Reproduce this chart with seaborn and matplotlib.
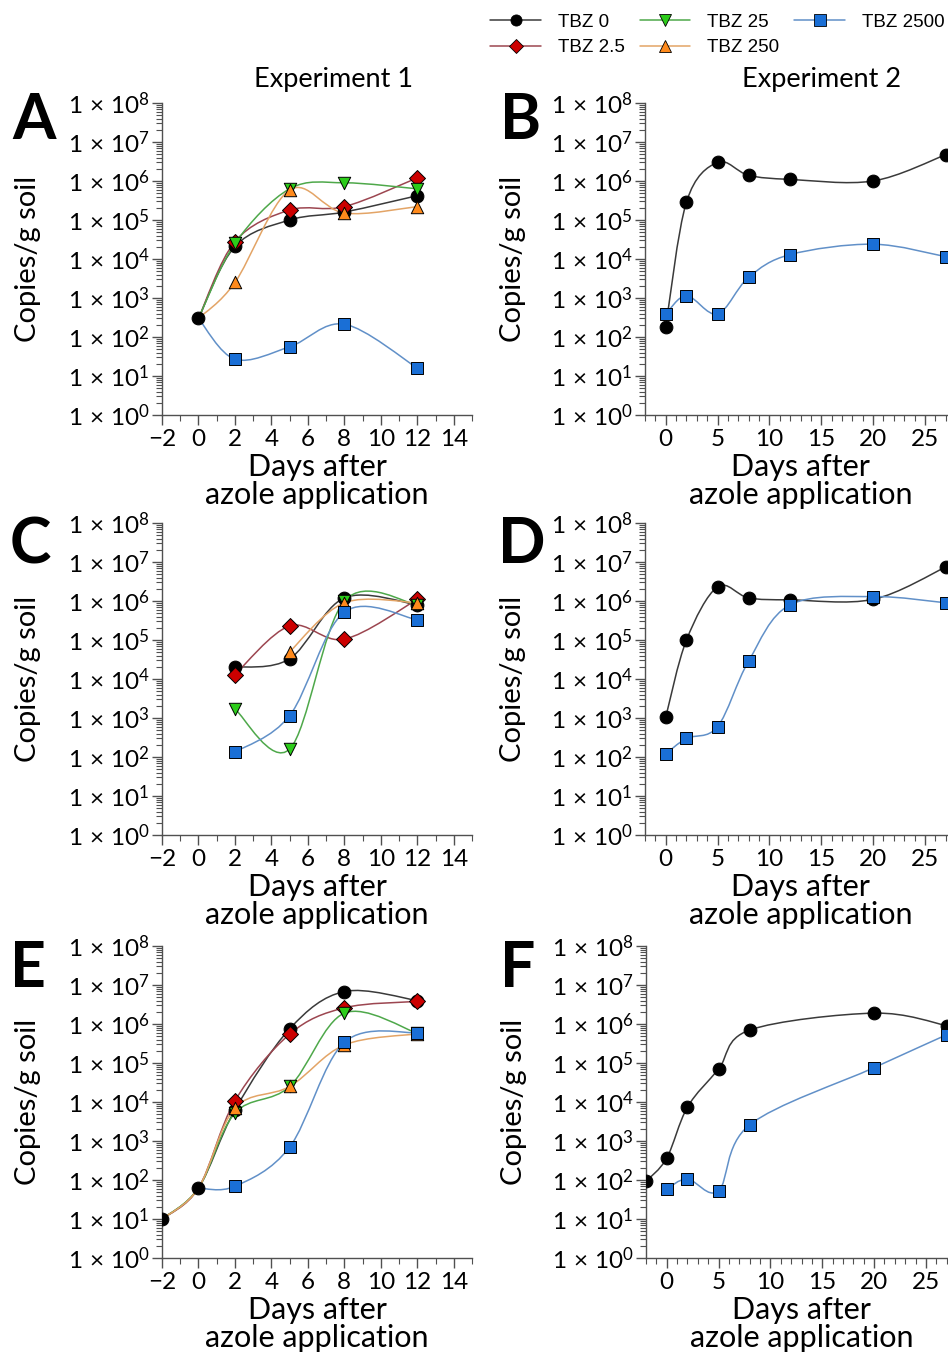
import numpy as np
import pandas as pd
import matplotlib
matplotlib.use("Agg")
import matplotlib.pyplot as plt
import seaborn as sns
from matplotlib.path import Path
from matplotlib.patches import PathPatch
from matplotlib.lines import Line2D
from matplotlib.ticker import LogLocator, MultipleLocator, FixedLocator, NullFormatter, FuncFormatter

# ---------------- data ----------------
series_names = ["TBZ 0", "TBZ 2.5", "TBZ 25", "TBZ 250", "TBZ 2500"]

# Experiment 1
days_A = [0, 2, 5, 8, 12]
A_tbz0 = [300, 2.1e4, 1.0e5, 1.6e5, 4.2e5]
A_tbz2_5 = [300, 2.8e4, 1.8e5, 2.2e5, 1.2e6]
A_tbz25 = [300, 2.5e4, 6.3e5, 9.0e5, 6.3e5]
A_tbz250 = [300, 2.5e3, 5.9e5, 1.5e5, 2.2e5]
A_tbz2500 = [300, 27, 56, 213, 16]

days_C = [2, 5, 8, 12]
C_tbz0 = [2.0e4, 3.3e4, 1.2e6, 8.0e5]
C_tbz2_5 = [1.3e4, 2.3e5, 1.05e5, 1.1e6]
C_tbz25 = [1.7e3, 160, 1.0e6, 8.0e5]
C_tbz250 = [np.nan, 5.0e4, 9.0e5, 9.0e5]
C_tbz2500 = [133, 1150, 5.2e5, 3.3e5]

days_E = [-2, 0, 2, 5, 8, 12]
E_tbz0 = [10, 62, 6.3e3, 7.5e5, 6.8e6, 4.0e6]
E_tbz2_5 = [10, 62, 1.07e4, 5.5e5, 2.6e6, 3.8e6]
E_tbz25 = [10, 62, 5.2e3, 2.5e4, 1.9e6, 5.8e5]
E_tbz250 = [10, 62, 7.0e3, 2.5e4, 2.9e5, 5.6e5]
E_tbz2500 = [np.nan, 62, 69, 700, 3.4e5, 6.0e5]

# Experiment 2
days_B = [0, 2, 5, 8, 12, 20, 27]
B_tbz0 = [185, 2.9e5, 3.0e6, 1.4e6, 1.1e6, 1.0e6, 4.7e6]
B_tbz2500 = [380, 1150, 390, 3400, 1.3e4, 2.4e4, 1.15e4]

days_D = [0, 2, 5, 8, 12, 20, 27]
D_tbz0 = [1050, 1.0e5, 2.3e6, 1.2e6, 1.07e6, 1.1e6, 7.4e6]
D_tbz2500 = [120, 300, 600, 2.9e4, 8.0e5, 1.3e6, 9.0e5]

days_F = [-2, 0, 2, 5, 8, 20, 27]
F_tbz0 = [92, 365, 7.4e3, 7.0e4, 7.0e5, 1.9e6, 9.1e5]
F_tbz2500 = [np.nan, 59, 106, 53, 2600, 7.6e4, 5.3e5]

xticks_exp1 = [-2, 0, 2, 4, 6, 8, 10, 12, 14]
xticks_exp2 = [0, 5, 10, 15, 20, 25]
ytick_exps = [0, 1, 2, 3, 4, 5, 6, 7, 8]

# ---------------- styles ----------------
styles = {
    "TBZ 0":    dict(marker="o", mcolor="#000000", lcolor="#3a3a3a", size=85),
    "TBZ 2.5":  dict(marker="D", mcolor="#cc0000", lcolor="#9c4650", size=66),
    "TBZ 25":   dict(marker="v", mcolor="#2ccc1a", lcolor="#4ea84a", size=80),
    "TBZ 250":  dict(marker="^", mcolor="#ff8a1c", lcolor="#e3a466", size=80),
    "TBZ 2500": dict(marker="s", mcolor="#1a6fd6", lcolor="#6190c8", size=66),
}
marker_z = {"TBZ 0": 3.0, "TBZ 2.5": 3.1, "TBZ 25": 3.2, "TBZ 250": 3.3, "TBZ 2500": 3.4}

sns.set_style("ticks")
plt.rcParams["font.family"] = ["Lato", "DejaVu Sans"]
plt.rcParams["mathtext.fontset"] = "custom"
plt.rcParams["mathtext.rm"] = "Lato"
plt.rcParams["mathtext.it"] = "Lato:italic"
plt.rcParams["mathtext.bf"] = "Lato:bold"
for key in ["text.color", "axes.labelcolor", "xtick.labelcolor", "ytick.labelcolor"]:
    plt.rcParams[key] = "black"

W, H = 948, 1358
fig = plt.figure(figsize=(W / 100, H / 100), dpi=100)
fig.patch.set_facecolor("white")


def px_axes(left, top, right, bottom):
    return fig.add_axes([left / W, 1 - bottom / H, (right - left) / W, (bottom - top) / H])


def smooth_line(ax, x, y, color):
    x = np.asarray(x, float)
    y = np.asarray(y, float)
    m = np.isfinite(y)
    P = np.column_stack([x[m], np.log10(y[m])])
    n = len(P)
    verts = [P[0]]
    codes = [Path.MOVETO]
    for i in range(n - 1):
        p0 = P[i - 1] if i > 0 else P[i]
        p1, p2 = P[i], P[i + 1]
        p3 = P[i + 2] if i + 2 < n else P[i + 1]
        c1 = p1 + (p2 - p0) / 6.0
        c2 = p2 - (p3 - p1) / 6.0
        verts += [c1, c2, p2]
        codes += [Path.CURVE4] * 3
    V = np.array(verts)
    V[:, 1] = 10 ** V[:, 1]
    ax.add_patch(PathPatch(Path(V, codes), fill=False, edgecolor=color, lw=1.1,
                           transform=ax.transData, zorder=2))


def draw_panel(ax, days, data, base=None):
    for name, vals in data:
        st = styles[name]
        smooth_line(ax, days, vals, st["lcolor"])
    for name, vals in data:
        st = styles[name]
        vals = np.asarray(vals, float)
        show = np.isfinite(vals)
        if base is not None and name != "TBZ 0":
            show &= ~np.isclose(vals, np.asarray(base, float))
        df = pd.DataFrame({"day": np.asarray(days)[show], "v": vals[show]})
        sns.scatterplot(data=df, x="day", y="v", ax=ax, marker=st["marker"], s=st["size"],
                        color=st["mcolor"], edgecolor="black", linewidth=0.7,
                        zorder=marker_z[name], legend=False, clip_on=True)


def style_axes(ax, xlim, xticks, label_x):
    ax.set_yscale("log")
    ax.set_ylim(1, 1e8)
    ax.set_xlim(*xlim)
    ax.yaxis.set_major_locator(FixedLocator([10.0 ** e for e in ytick_exps]))
    ax.yaxis.set_major_formatter(FuncFormatter(
        lambda v, p: r"$1\,\times\,10^{%d}$" % int(round(np.log10(v)))))
    ax.yaxis.set_minor_locator(LogLocator(base=10, subs=np.arange(2, 10), numticks=20))
    ax.yaxis.set_minor_formatter(NullFormatter())
    ax.xaxis.set_major_locator(FixedLocator(xticks))
    ax.xaxis.set_minor_locator(MultipleLocator(1))
    ax.xaxis.set_major_formatter(FuncFormatter(lambda v, p: ("\u2212%d" % abs(v)) if v < 0 else "%d" % v))
    for s in ["top", "right"]:
        ax.spines[s].set_visible(False)
    for s in ["left", "bottom"]:
        ax.spines[s].set_color("#505050")
        ax.spines[s].set_linewidth(1.0)
    ax.tick_params(axis="y", which="major", direction="out", length=7, width=1.0,
                   color="#505050", labelsize=17.5, pad=2)
    ax.tick_params(axis="x", which="major", direction="out", length=7, width=1.0,
                   color="#505050", labelsize=17.5, pad=3)
    ax.tick_params(axis="both", which="minor", direction="out", length=4, width=0.8, color="#505050")
    ax.set_xlabel("Days after\nazole application", fontsize=22, linespacing=1.03, labelpad=2)
    ax.set_ylabel("Copies/g soil", fontsize=21)
    ax.yaxis.set_label_coords(label_x, 0.5)
    ax.set_facecolor("white")


# Experiment 1 axes (left column)
axA = px_axes(162, 103, 472, 415)
axC = px_axes(162, 523, 472, 835)
axE = px_axes(162, 946, 472, 1258)
# Experiment 2 axes (right column, extending past the figure edge)
axB = px_axes(645, 103, 956, 415)
axD = px_axes(645, 523, 956, 835)
axF = px_axes(646, 946, 957, 1258)

draw_panel(axA, days_A, [("TBZ 0", A_tbz0), ("TBZ 2.5", A_tbz2_5), ("TBZ 25", A_tbz25),
                         ("TBZ 250", A_tbz250), ("TBZ 2500", A_tbz2500)], base=A_tbz0)
draw_panel(axC, days_C, [("TBZ 0", C_tbz0), ("TBZ 2.5", C_tbz2_5), ("TBZ 25", C_tbz25),
                         ("TBZ 250", C_tbz250), ("TBZ 2500", C_tbz2500)])
draw_panel(axE, days_E, [("TBZ 0", E_tbz0), ("TBZ 2.5", E_tbz2_5), ("TBZ 25", E_tbz25),
                         ("TBZ 250", E_tbz250), ("TBZ 2500", E_tbz2500)], base=E_tbz0)
draw_panel(axB, days_B, [("TBZ 0", B_tbz0), ("TBZ 2500", B_tbz2500)])
draw_panel(axD, days_D, [("TBZ 0", D_tbz0), ("TBZ 2500", D_tbz2500)])
draw_panel(axF, days_F, [("TBZ 0", F_tbz0), ("TBZ 2500", F_tbz2500)])

for ax in (axA, axC, axE):
    style_axes(ax, (-2, 15), xticks_exp1, (41 - 162) / 310)
for ax in (axB, axD, axF):
    style_axes(ax, (-2, 28), xticks_exp2, (526 - 645) / 311)

# titles
fig.text(333 / W, 1 - 80 / H, "Experiment 1", ha="center", va="center", fontsize=19.5)
fig.text(822 / W, 1 - 80 / H, "Experiment 2", ha="center", va="center", fontsize=19.5)

# panel letters
for letter, x, y in [("A", 12, 92), ("B", 500, 92), ("C", 10, 516), ("D", 498, 516),
                     ("E", 10, 940), ("F", 500, 940)]:
    fig.text(x / W, 1 - y / H, letter, ha="left", va="top", fontsize=45, fontweight="bold")

# legend
handles = []
for name in series_names:
    st = styles[name]
    handles.append(Line2D([0], [0], color=st["lcolor"], lw=1.1, marker=st["marker"],
                          markerfacecolor=st["mcolor"], markeredgecolor="black",
                          markeredgewidth=0.6, markersize=8 if st["marker"] != "D" else 7))
leg = fig.legend(handles, series_names, ncol=3, loc="upper right",
                 bbox_to_anchor=(952 / W, 1 - 6 / H), frameon=False,
                 prop={"family": "Liberation Sans", "size": 13.5},
                 handlelength=2.7, columnspacing=0.8, handletextpad=0.9,
                 labelspacing=0.45, borderaxespad=0.0)

fig.savefig("out.png", dpi=100, facecolor="white")
